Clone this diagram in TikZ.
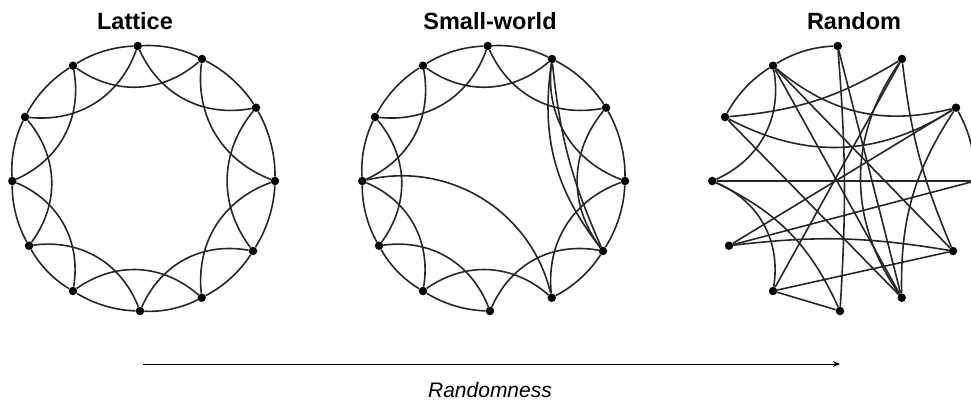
\documentclass[tikz,border=0pt]{standalone}
\usepackage{fontspec}
\setmainfont{Liberation Sans}
\usetikzlibrary{arrows.meta}
\begin{document}
\begin{tikzpicture}[x=1pt,y=-1pt,
  dot/.style={circle,fill=black,inner sep=0pt,minimum size=8.5pt},
  edge/.style={line width=1.6pt,draw=black!85},
  ring/.style={edge,bend left=15,looseness=0.85},
  inner/.style={edge,bend right=38},
  title/.style={font=\bfseries\fontsize{23.5}{28}\selectfont,anchor=base},
  axislabel/.style={font=\itshape\fontsize{21}{25}\selectfont,anchor=base}]
\useasboundingbox (0,0) rectangle (971,401);
\clip (0,0) rectangle (971,401);
% nodes
\foreach \i/\x/\y in {0/137.7/46,1/202/59,2/256/107.7,3/275/181,4/253/251,5/201.7/297.7,
  6/140/311,7/73/291,8/29/245.7,9/12.3/181,10/25/117,11/73/65.7}{
  \node[dot] (L\i) at (\x,\y) {};
  \node[dot] (S\i) at (\x+350,\y) {};
  \node[dot] (R\i) at (\x+700,\y) {};
}
% titles
\node[title] (tL) at (135,30) {Lattice};
\node[title] (tS) at (490,30) {Small-world};
\node[title] (tR) at (854,30) {Random};
% lattice
\foreach \i [evaluate=\i as \j using {int(mod(\i+1,12))},
             evaluate=\i as \k using {int(mod(\i+2,12))}] in {0,...,11}{
  \draw[ring] (L\i) to (L\j);
  \draw[inner] (L\i) to (L\k);
}
% small-world
\foreach \i [evaluate=\i as \j using {int(mod(\i+1,12))},
             evaluate=\i as \k using {int(mod(\i+2,12))}] in {0,...,11}{
  \ifnum\i=5\else\draw[ring] (S\i) to (S\j);\fi
  \draw[inner] (S\i) to (S\k);
}
\draw[edge] (S9) to[bend left=45] (S5);
\draw[edge] (S1) to[bend right=23] (S4);
\draw[edge] (S1) to[bend right=9] (S4);
% random
\draw[ring] (R11) to (R0);
\draw[ring] (R10) to (R11);
\draw[ring] (R2) to (R3);
\draw[inner] (R9) to (R11);
\draw[inner] (R7) to (R9);
\draw[edge] (R6) -- (R7);
\draw[edge] (R9) to[bend left=20] (R6);
\draw[edge] (R0) to[bend left=4] (R6);
\draw[edge] (R0) -- (R5);
\draw[edge] (R10) to[bend right=13] (R1);
\draw[edge] (R1) -- (R7);
\draw[edge] (R1) to[bend right=35] (R5);
\draw[edge] (R1) to[bend right=8] (R4);
\draw[edge] (R11) to[bend right=27] (R2);
\draw[edge] (R10) to[bend right=30] (R2);
\draw[edge] (R2) -- (R8);
\draw[edge] (R2) to[bend right=17] (R5);
\draw[edge] (R3) -- (R9);
\draw[edge] (R3) -- (R8);
\draw[edge] (R8) to[bend left=8] (R4);
\draw[edge] (R4) -- (R7);
\draw[edge] (R11) -- (R4);
\draw[edge] (R11) -- (R5);
\draw[edge] (R10) -- (R5);
% arrow
\coordinate (a0) at (143,364);
\coordinate (a1) at (840,364);
\draw[line width=0.9pt,-{Stealth[length=7pt,width=6pt]}] (a0) -- (a1);
\node[axislabel] (lab) at (490,397) {Randomness};
\end{tikzpicture}
\end{document}
